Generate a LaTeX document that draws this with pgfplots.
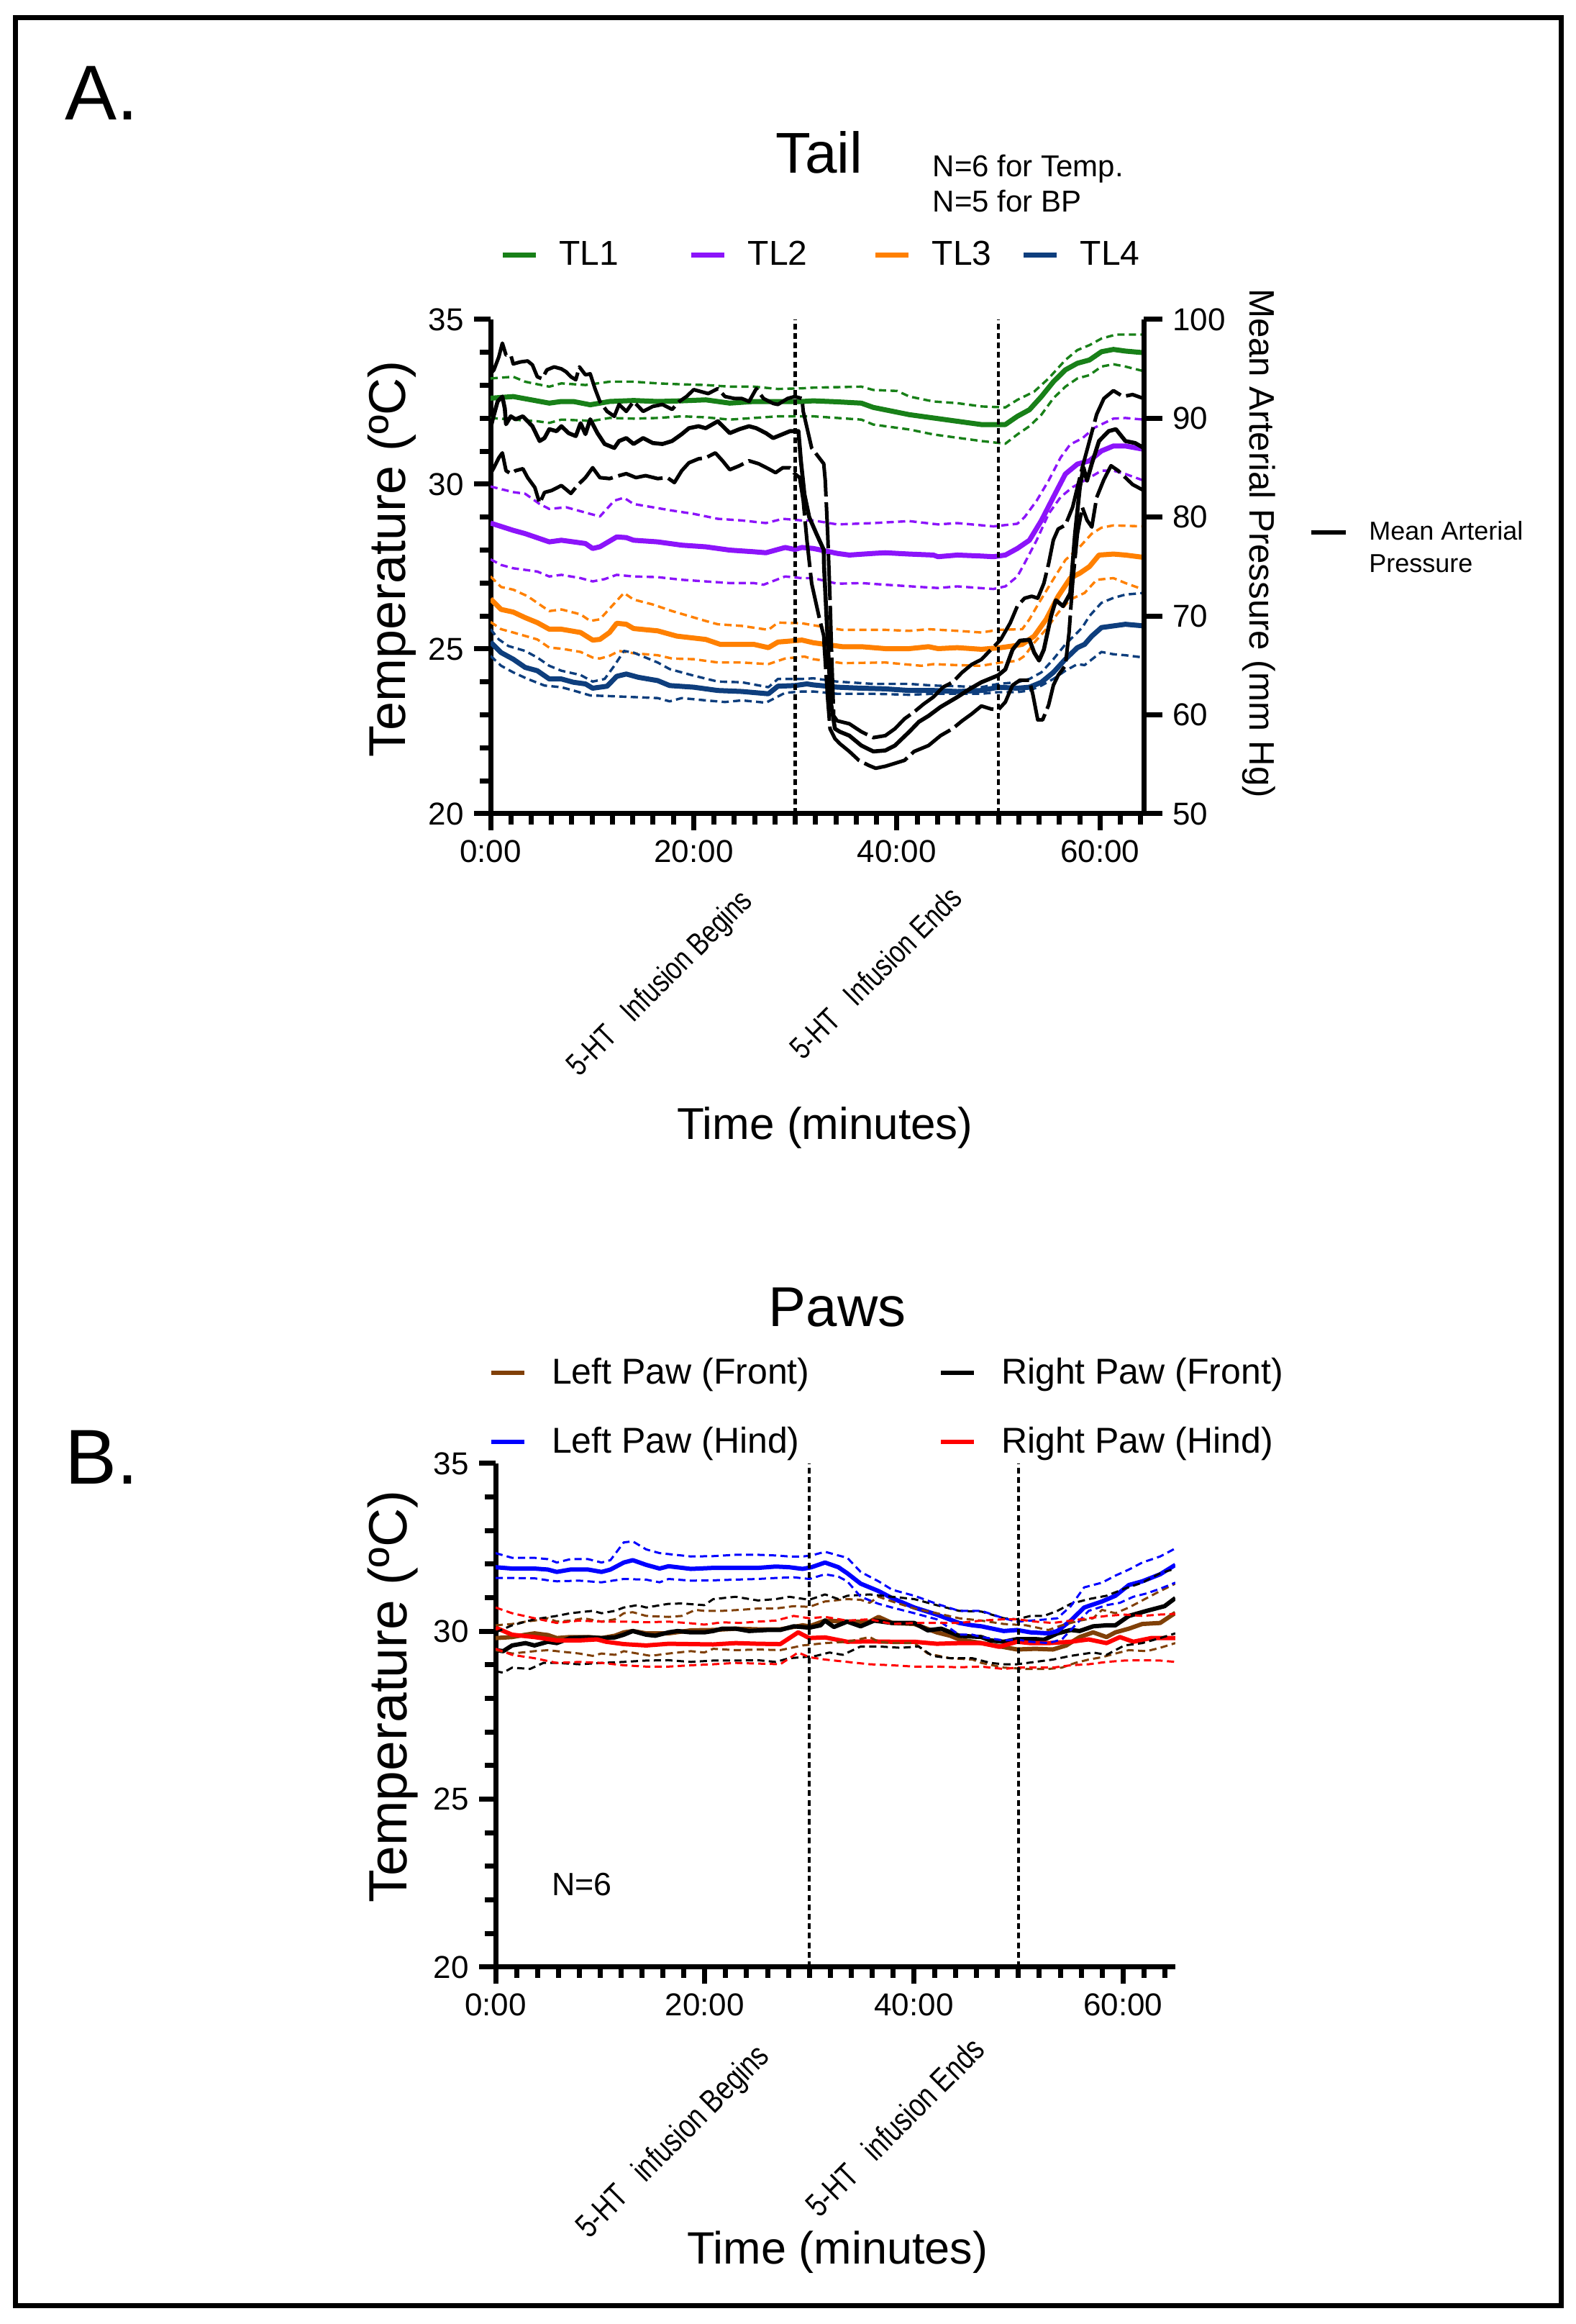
\documentclass[border=0pt]{standalone}
\usepackage{fontspec}
\setmainfont{Liberation Sans}
\usepackage{graphicx}
\usepackage{pgfplots}
\pgfplotsset{compat=1.18}

\definecolor{tlgreen}{RGB}{24,128,24}
\definecolor{tlpurple}{RGB}{140,20,250}
\definecolor{tlorange}{RGB}{255,128,0}
\definecolor{tlnavy}{RGB}{14,62,125}
\definecolor{pawbrown}{RGB}{128,64,8}

\tikzset{
  tmean/.style={line width=1.75pt},
  tband/.style={line width=0.85pt, dash pattern=on 2.5pt off 1.5pt},
  pmean/.style={line width=1.5pt},
  pband/.style={line width=0.75pt, dash pattern=on 2.5pt off 1.5pt},
  mapmean/.style={black, line width=1.4pt},
  mapband/.style={black, line width=1.25pt, dash pattern=on 16pt off 2pt},
  marker/.style={black, line width=1.1pt, dash pattern=on 2pt off 1.3pt},
}

\pgfplotsset{
  panel/.style={
    scale only axis, enlargelimits=false,
    axis x line=bottom, axis y line=left,
    axis line style={-, line width=1.75pt, black},
    tick align=outside, tick style={black, line width=1.75pt},
    major tick length=5.75pt, minor tick length=3.75pt,
    xtick={0,20,40,60}, xticklabels={0:00,20:00,40:00,60:00},
    ymin=20, ymax=35, ytick={20,25,30,35}, minor ytick={20,...,35},
    ticklabel style={font=\fontsize{11}{13}\selectfont},
    /pgf/number format/assume math mode=true,
    no markers, line join=round,
  }
}

\begin{document}
\begin{tikzpicture}
\useasboundingbox (0,0) rectangle (547.75pt,807.5pt);
\draw[line width=1.75pt] (5.25pt,6.25pt) rectangle (542.5pt,801.25pt);

% ---------- A. Tail: temperatures ----------
\begin{axis}[panel,
  width=227pt, height=171.75pt, at={(170.5pt,524.75pt)}, anchor=south west,
  xmin=0, xmax=64.3, minor xtick={0,2,...,64},
  ylabel={Temperature (ºC)}, xlabel={Time (minutes)},
  ylabel style={at={(axis description cs:-0.151,0.5155)}, anchor=center, font=\fontsize{18}{20}\selectfont},
  xlabel style={at={(axis description cs:0.512,-0.635)}, anchor=center, font=\fontsize{15.5}{18}\selectfont},
  legend style={draw=none, fill=none, at={(axis description cs:0.0006,1.1296)}, anchor=west,
    font=\fontsize{12}{14}\selectfont, nodes={inner sep=0pt}, column sep=0pt,
    /tikz/every odd column/.append style={column sep=7.25pt}},
  legend columns=4, legend cell align=left,
  legend image code/.code={\draw[#1] (0pt,0pt) -- (11.5pt,0pt);},
]
\addplot[tlgreen, tmean] coordinates {(0,32.61)(2.23,32.66)(5.78,32.46)(6.97,32.51)(8.15,32.51)(9.81,32.41)(11.71,32.51)(14.08,32.54)(16.45,32.51)(18.82,32.53)(21.18,32.56)(23.55,32.46)(25.92,32.51)(28.29,32.51)(30.66,32.51)(31.77,32.53)(34.13,32.50)(36.50,32.46)(37.68,32.33)(41.23,32.11)(43.59,32.01)(45.95,31.91)(48.32,31.81)(50.68,31.81)(51.86,32.06)(53.05,32.26)(54.23,32.66)(55.41,33.11)(56.59,33.47)(57.77,33.67)(58.96,33.77)(60.14,34.02)(61.32,34.09)(62.50,34.04)(64.3,33.99)};
\addlegendentry{\makebox[45.15pt][l]{TL1}}
\addplot[tlpurple, tmean] coordinates {(0,28.82)(2.23,28.60)(3.41,28.50)(5.78,28.25)(6.97,28.30)(9.34,28.20)(10.05,28.05)(10.76,28.10)(12.42,28.40)(13.36,28.38)(14.08,28.30)(16.45,28.25)(18.82,28.15)(21.18,28.10)(23.55,28.00)(25.92,27.95)(27.11,27.92)(29.0,28.08)(29.95,28.02)(30.66,28.08)(31.77,28.05)(34.13,27.90)(35.32,27.85)(37.68,27.90)(38.86,27.92)(41.23,27.88)(43.59,27.85)(44.06,27.80)(45.95,27.85)(48.32,27.82)(49.50,27.80)(50.68,27.85)(51.86,28.05)(53.05,28.30)(54.23,28.90)(55.41,29.61)(56.59,30.31)(57.77,30.61)(58.96,30.71)(60.14,31.01)(61.32,31.16)(62.50,31.16)(64.3,31.06)};
\addlegendentry{\makebox[43.5pt][l]{TL2}}
\addplot[tlorange, tmean] coordinates {(0,26.52)(1.04,26.20)(2.23,26.12)(3.41,25.95)(4.60,25.80)(5.78,25.60)(6.97,25.60)(8.86,25.50)(10.05,25.27)(10.76,25.29)(11.71,25.50)(12.42,25.78)(13.36,25.75)(14.08,25.62)(16.45,25.55)(18.34,25.39)(21.18,25.29)(22.61,25.14)(25.92,25.14)(27.35,25.04)(28.29,25.21)(30.66,25.27)(31.77,25.19)(34.61,25.07)(36.50,25.07)(38.86,25.01)(41.23,25.01)(43.12,25.07)(44.06,25.01)(45.95,25.04)(48.32,24.99)(50.21,25.04)(51.39,25.09)(52.34,25.14)(53.52,25.39)(54.70,25.90)(55.88,26.60)(57.07,27.15)(58.01,27.30)(58.96,27.50)(59.90,27.85)(61.32,27.88)(62.50,27.85)(64.3,27.78)};
\addlegendentry{\makebox[31pt][l]{TL3}}
\addplot[tlnavy, tmean] coordinates {(0,25.21)(1.04,24.89)(2.23,24.69)(3.41,24.44)(4.60,24.34)(5.78,24.09)(6.97,24.09)(8.15,23.99)(9.34,23.94)(10.05,23.81)(10.76,23.84)(11.47,23.87)(12.42,24.17)(13.36,24.24)(14.55,24.14)(16.45,24.04)(17.63,23.89)(20.0,23.84)(22.37,23.74)(24.74,23.71)(27.35,23.64)(28.29,23.87)(29.95,23.89)(31.14,23.94)(31.77,23.91)(34.13,23.84)(36.50,23.81)(38.86,23.79)(41.23,23.74)(43.59,23.74)(45.95,23.71)(48.32,23.74)(49.97,23.84)(51.86,23.81)(53.05,23.84)(54.23,23.99)(55.41,24.29)(56.59,24.69)(57.77,25.04)(58.48,25.14)(59.19,25.39)(60.14,25.65)(61.32,25.70)(62.50,25.75)(64.3,25.70)};
\addlegendentry{TL4}
% SEM bands
\addplot[tlgreen, tband, forget plot] coordinates {(0,33.21)(2.23,33.26)(3.41,33.11)(5.78,32.96)(6.97,33.06)(9.34,33.01)(11.71,33.11)(14.08,33.11)(16.45,33.06)(18.82,33.03)(21.18,33.01)(23.55,32.96)(25.92,32.96)(28.29,32.89)(30.66,32.91)(31.77,32.93)(36.50,32.96)(37.68,32.86)(40.04,32.83)(41.23,32.66)(43.59,32.51)(45.95,32.46)(48.32,32.36)(50.68,32.33)(51.86,32.56)(53.52,32.81)(54.94,33.21)(56.59,33.77)(57.77,34.07)(58.96,34.22)(60.14,34.42)(61.56,34.54)(64.3,34.54)};
\addplot[tlgreen, tband, forget plot] coordinates {(0,32.01)(2.23,31.96)(4.60,31.91)(5.78,31.86)(6.97,31.96)(9.34,31.93)(9.81,31.91)(11.71,32.01)(14.08,31.99)(16.45,32.01)(18.82,32.06)(21.18,32.03)(23.55,31.96)(25.92,32.01)(28.29,32.06)(30.66,32.06)(31.77,32.06)(36.50,31.96)(37.68,31.81)(41.23,31.66)(43.59,31.51)(45.95,31.41)(48.32,31.31)(50.68,31.23)(51.86,31.51)(53.05,31.76)(54.23,32.11)(55.41,32.61)(56.59,32.96)(57.77,33.21)(58.96,33.31)(60.14,33.57)(61.32,33.64)(62.50,33.57)(64.3,33.43)};
\addplot[tlpurple, tband, forget plot] coordinates {(0,29.93)(2.23,29.76)(3.41,29.71)(4.83,29.40)(5.78,29.25)(7.44,29.30)(9.81,29.10)(10.76,29.02)(12.18,29.50)(13.13,29.59)(14.08,29.40)(15.97,29.30)(17.87,29.20)(20.0,29.10)(22.37,28.95)(24.74,28.90)(27.11,28.82)(28.77,28.95)(30.66,28.90)(31.77,28.90)(34.13,28.78)(37.68,28.82)(41.23,28.88)(44.06,28.78)(45.95,28.82)(49.50,28.72)(51.86,28.80)(52.57,29.00)(53.76,29.50)(54.94,30.11)(56.12,30.81)(57.07,31.21)(58.25,31.39)(59.43,31.71)(61.32,31.99)(62.50,32.01)(64.3,31.96)};
\addplot[tlpurple, tband, forget plot] coordinates {(0,27.72)(1.04,27.55)(2.23,27.45)(4.60,27.35)(5.78,27.20)(6.97,27.25)(8.86,27.15)(10.05,27.05)(11.23,27.12)(12.42,27.25)(14.08,27.20)(16.45,27.18)(18.82,27.10)(21.18,27.05)(23.55,27.00)(25.92,27.00)(26.87,26.95)(29.0,27.20)(30.66,27.15)(31.77,27.15)(34.13,26.98)(36.50,27.00)(38.86,26.95)(42.41,26.88)(44.06,26.85)(45.95,26.90)(49.50,26.82)(50.68,26.90)(51.86,27.20)(52.57,27.60)(53.76,28.30)(54.94,29.10)(56.12,29.61)(57.30,29.91)(58.48,30.11)(60.14,30.41)(61.32,30.41)(62.50,30.31)(64.3,30.11)};
\addplot[tlorange, tband, forget plot] coordinates {(0,27.20)(1.04,26.88)(2.23,26.80)(3.65,26.60)(4.83,26.35)(5.78,26.15)(6.97,26.20)(8.86,26.05)(9.81,25.85)(10.76,25.90)(11.94,26.30)(13.13,26.70)(14.08,26.50)(15.97,26.35)(17.87,26.15)(19.53,26.00)(21.18,25.85)(22.37,25.75)(24.74,25.70)(27.35,25.58)(28.29,25.80)(30.66,25.78)(31.77,25.72)(34.61,25.58)(38.86,25.58)(41.23,25.55)(43.12,25.60)(45.95,25.55)(48.32,25.50)(49.97,25.58)(52.34,25.60)(53.05,25.90)(53.99,26.40)(55.17,27.00)(56.59,27.70)(58.01,28.10)(59.19,28.50)(60.14,28.68)(61.32,28.75)(64.3,28.72)};
\addplot[tlorange, tband, forget plot] coordinates {(0,25.82)(1.04,25.60)(2.23,25.50)(4.60,25.29)(5.78,25.04)(6.97,25.01)(8.86,24.91)(10.05,24.74)(10.76,24.71)(11.71,24.79)(12.65,24.94)(14.08,24.87)(16.45,24.81)(17.87,24.71)(20.0,24.69)(22.37,24.59)(24.74,24.59)(27.35,24.54)(29.0,24.71)(30.90,24.77)(31.77,24.69)(34.61,24.57)(38.86,24.59)(42.41,24.49)(43.59,24.54)(45.95,24.51)(48.32,24.49)(50.21,24.59)(51.86,24.64)(52.57,24.79)(53.52,25.19)(54.70,25.60)(55.88,26.10)(57.07,26.50)(58.48,26.70)(59.67,27.10)(61.32,27.15)(62.50,27.00)(64.3,26.80)};
\addplot[tlnavy, tband, forget plot] coordinates {(0,25.60)(0.81,25.29)(1.75,25.09)(3.41,24.94)(4.60,24.74)(5.78,24.49)(6.97,24.34)(8.86,24.21)(10.05,24.01)(11.23,24.09)(12.18,24.49)(13.13,24.94)(14.08,24.89)(15.26,24.74)(16.45,24.59)(17.63,24.39)(20.0,24.19)(22.37,24.01)(24.74,23.99)(27.35,23.84)(28.29,24.09)(30.66,24.09)(31.77,24.11)(34.13,24.01)(37.68,23.94)(41.23,23.94)(43.59,23.89)(45.95,23.87)(48.32,23.84)(49.97,23.94)(51.86,23.99)(53.05,24.09)(54.23,24.29)(55.41,24.69)(56.59,25.14)(57.77,25.50)(58.25,25.65)(58.96,26.00)(60.14,26.40)(61.32,26.55)(62.50,26.65)(64.3,26.70)};
\addplot[tlnavy, tband, forget plot] coordinates {(0,24.79)(1.04,24.49)(2.23,24.29)(3.65,24.09)(5.31,23.89)(6.97,23.84)(8.15,23.74)(9.81,23.59)(11.71,23.57)(14.08,23.54)(16.45,23.51)(17.63,23.41)(18.82,23.51)(21.18,23.44)(23.08,23.39)(24.74,23.44)(27.11,23.37)(29.0,23.67)(30.66,23.71)(31.77,23.71)(34.13,23.64)(37.68,23.64)(41.23,23.61)(43.59,23.64)(48.32,23.64)(49.97,23.69)(51.86,23.69)(53.05,23.74)(54.23,23.89)(55.41,24.09)(56.59,24.34)(57.77,24.54)(58.48,24.51)(59.43,24.74)(60.14,24.91)(61.32,24.84)(62.50,24.81)(64.3,24.74)};
% infusion markers
\addplot[marker, forget plot] coordinates {(30,20)(30,35)};
\addplot[marker, forget plot] coordinates {(50,20)(50,35)};
\end{axis}

% ---------- A. Tail: mean arterial pressure ----------
\begin{axis}[
  scale only axis, enlargelimits=false,
  width=227pt, height=171.75pt, at={(170.5pt,524.75pt)}, anchor=south west,
  xmin=0, xmax=64.3, hide x axis,
  axis y line=right, axis line style={-, line width=1.75pt, black},
  tick align=outside, tick style={black, line width=1.75pt}, major tick length=6.5pt,
  ymin=50, ymax=100, ytick={50,60,...,100},
  ticklabel style={font=\fontsize{11}{13}\selectfont},
  /pgf/number format/assume math mode=true,
  ylabel={Mean Arterial Pressure (mm Hg)},
  every axis y label/.style={at={(axis description cs:1.176,0.547)}, anchor=center, rotate=-90, font=\fontsize{12.3}{14}\selectfont},
  no markers, line join=round,
  legend style={draw=none, fill=none, at={(axis description cs:1.239,0.5364)}, anchor=west,
    font=\fontsize{9}{11.25}\selectfont, nodes={inner sep=0pt, align=left}, column sep=0pt,
    /tikz/every odd column/.append style={column sep=7.5pt}},
  legend cell align=left,
  legend image code/.code={\draw[#1] (0pt,5.6pt) -- (12pt,5.6pt);},
]
\addplot[mapmean] coordinates {(0,89.0)(0.21,89.9)(0.69,91.7)(1.16,92.2)(1.40,91.0)(1.52,89.4)(1.99,90.2)(2.46,89.9)(3.18,90.2)(4.12,89.2)(4.83,87.7)(5.31,88.0)(5.78,88.9)(6.49,88.7)(6.97,89.2)(7.68,88.5)(8.39,88.2)(8.86,89.5)(9.34,88.4)(9.81,89.9)(10.52,88.5)(11.23,87.4)(12.18,87.0)(12.65,87.7)(13.36,88.0)(14.08,87.4)(15.02,88.0)(15.97,87.5)(16.92,87.4)(17.87,87.7)(18.82,88.4)(19.53,89.0)(20.47,89.2)(21.18,89.0)(22.37,89.7)(23.55,88.5)(24.5,88.9)(25.45,89.2)(26.16,89.0)(27.11,88.5)(27.82,88.0)(28.77,88.4)(29.48,88.7)(30.31,88.7)(30.55,85.7)(30.90,82.3)(31.37,80.0)(32.09,78.3)(32.80,76.7)(32.83,75.0)(33.07,70.0)(33.31,65.0)(33.54,61.0)(33.9,58.6)(34.37,58.3)(35.32,57.9)(36.5,56.9)(37.68,56.3)(38.86,56.4)(39.81,56.9)(41.23,58.3)(42.17,59.3)(43.12,59.9)(44.3,60.8)(45.95,61.8)(47.14,62.6)(48.32,63.3)(49.5,63.8)(49.97,64.0)(50.68,64.6)(51.39,66.6)(52.1,67.5)(53.05,67.6)(53.52,66.3)(54.0,65.5)(54.47,66.6)(55.18,70.0)(55.65,71.6)(56.36,71.0)(57.07,72.3)(57.54,78.3)(58.01,83.0)(58.37,85.0)(58.72,83.7)(59.19,85.4)(59.9,87.7)(60.85,88.7)(61.56,88.9)(62.5,87.7)(63.45,87.5)(64.3,87.0)};
\addlegendentry{Mean Arterial\\Pressure}
\addplot[mapband, forget plot] coordinates {(0,94.5)(0.33,94.9)(0.81,96.2)(1.16,97.6)(1.52,96.4)(1.99,96.4)(2.23,95.5)(2.94,95.7)(3.65,95.8)(4.12,95.4)(4.60,94.2)(5.07,94.0)(5.55,94.9)(6.26,95.2)(6.97,95.0)(7.44,94.7)(7.91,94.2)(8.39,93.9)(8.74,95.2)(9.34,94.4)(9.81,94.5)(10.28,93.0)(10.76,91.7)(11.47,90.7)(12.18,90.2)(12.65,91.4)(13.36,90.7)(14.08,91.7)(15.02,90.7)(15.97,91.2)(16.92,91.4)(17.87,90.9)(18.58,91.7)(19.29,92.2)(20.0,92.9)(20.71,92.7)(21.42,92.5)(22.37,93.0)(23.08,92.2)(24.03,92.0)(24.74,92.0)(25.45,91.7)(26.16,93.0)(26.87,92.0)(27.82,91.5)(28.29,91.4)(29.24,92.0)(29.95,92.2)(30.66,92.0)(30.78,90.7)(31.61,87.0)(32.80,85.4)(32.95,83.7)(33.19,78.3)(33.42,71.6)(33.61,65.0)(33.78,59.9)(34.13,59.4)(35.32,59.1)(36.5,58.3)(37.68,57.7)(38.86,57.9)(39.81,58.6)(40.75,59.6)(41.7,60.3)(42.64,61.1)(43.59,61.8)(44.54,62.8)(45.48,63.3)(46.43,64.3)(47.37,65.1)(48.32,65.6)(49.26,66.6)(50.21,67.6)(51.16,69.3)(51.86,71.0)(52.57,71.8)(53.28,72.0)(53.87,71.8)(54.47,73.3)(54.94,75.3)(55.41,77.7)(55.88,78.8)(56.59,79.2)(57.3,81.0)(57.77,83.0)(58.25,85.0)(58.96,87.7)(59.67,90.4)(60.38,92.0)(61.32,92.8)(62.27,92.2)(63.21,92.4)(64.3,92.0)};
\addplot[mapband, forget plot] coordinates {(0,84.4)(0.33,85.0)(0.81,86.0)(1.16,86.5)(1.52,84.7)(1.99,84.4)(2.46,84.7)(3.18,84.9)(3.65,84.0)(4.36,83.0)(4.83,81.4)(5.31,82.5)(6.02,82.7)(6.97,83.2)(7.91,82.4)(8.63,83.3)(9.34,84.0)(10.05,85.0)(10.76,84.0)(11.71,83.9)(12.65,84.2)(13.36,84.4)(14.31,84.0)(15.26,84.2)(16.45,83.9)(17.39,84.0)(18.1,83.5)(18.82,84.7)(19.53,85.5)(20.47,85.9)(21.18,86.0)(22.13,86.5)(22.84,85.7)(23.55,84.8)(24.5,85.2)(25.45,85.7)(26.4,85.4)(27.35,84.9)(28.06,84.5)(28.77,85.0)(29.48,85.0)(29.95,84.4)(30.43,84.0)(30.78,81.7)(31.14,77.7)(31.61,73.3)(32.32,70.0)(32.80,68.0)(32.83,67.3)(33.19,61.6)(33.42,58.6)(33.9,57.6)(34.37,57.1)(35.32,56.3)(36.26,55.4)(37.21,54.9)(37.91,54.6)(38.86,54.8)(39.81,55.1)(40.75,55.4)(41.7,56.3)(43.12,56.9)(44.3,57.9)(45.48,58.6)(46.43,59.4)(47.37,60.1)(48.32,60.9)(49.26,60.6)(49.97,60.5)(50.68,61.3)(51.39,63.0)(52.1,63.5)(53.05,63.5)(53.4,62.0)(53.87,59.5)(54.35,59.5)(54.94,61.0)(55.41,63.0)(55.88,64.0)(56.59,65.0)(56.95,68.3)(57.3,73.3)(57.77,78.3)(58.25,81.0)(58.72,79.7)(59.19,79.0)(59.67,82.0)(60.38,83.8)(61.08,85.2)(61.79,84.7)(62.5,84.0)(63.21,83.3)(64.3,82.7)};
\end{axis}

% ---------- B. Paws ----------
\begin{axis}[panel,
  width=236.25pt, height=175pt, at={(172.25pt,124pt)}, anchor=south west,
  xmin=0, xmax=65, minor xtick={0,2,...,64},
  ylabel={Temperature (ºC)}, xlabel={Time (minutes)},
  ylabel style={at={(axis description cs:-0.1513,0.537)}, anchor=center, font=\fontsize{18.75}{21}\selectfont},
  xlabel style={at={(axis description cs:0.503,-0.5654)}, anchor=center, font=\fontsize{15.75}{18}\selectfont},
  legend style={draw=none, fill=none, at={(axis description cs:-0.023,1.111)}, anchor=west,
    font=\fontsize{12.5}{15}\selectfont, nodes={inner sep=0pt}, row sep=13.5pt, column sep=0pt,
    /tikz/every odd column/.append style={column sep=8.75pt}},
  legend columns=2, legend cell align=left,
  legend image code/.code={\draw[#1] (0pt,0pt) -- (11.5pt,0pt);},
]
\addplot[pawbrown, pmean] coordinates {(0,29.80)(1.58,29.83)(2.86,29.90)(3.72,29.94)(5.0,29.89)(5.85,29.80)(7.14,29.83)(8.85,29.83)(10.13,29.80)(11.41,29.87)(12.26,29.97)(13.12,30.01)(14.40,29.94)(16.54,29.94)(18.68,30.03)(20.81,30.04)(22.95,30.08)(25.09,30.06)(27.22,30.06)(29.36,30.18)(30,30.15)(31.50,30.32)(33.63,30.29)(35.77,30.29)(36.62,30.43)(37.91,30.25)(40.04,30.22)(42.18,29.97)(43.46,29.87)(44.32,29.76)(46.45,29.65)(47.74,29.58)(49.87,29.46)(51.58,29.48)(53.29,29.46)(54.57,29.58)(55.85,29.83)(57.14,29.97)(58.42,29.83)(59.27,29.97)(60.56,30.08)(61.84,30.22)(63.55,30.25)(65,30.55)};
\addlegendentry{\makebox[134.5pt][l]{Left Paw (Front)}}
\addplot[black, pmean] coordinates {(0,29.44)(0.73,29.41)(1.58,29.58)(2.86,29.65)(3.72,29.58)(5.0,29.69)(5.85,29.65)(7.14,29.80)(8.85,29.82)(10.13,29.80)(11.41,29.82)(12.26,29.90)(13.12,30.01)(14.40,29.90)(15.26,29.87)(16.54,29.97)(17.39,30.01)(18.68,29.97)(19.96,29.97)(20.81,30.01)(21.67,30.08)(22.95,30.08)(24.23,30.01)(25.94,30.04)(27.22,30.04)(28.5,30.15)(30,30.11)(31.07,30.18)(31.50,30.32)(32.35,30.13)(33.63,30.29)(34.91,30.15)(36.20,30.32)(37.91,30.25)(40.04,30.25)(41.32,30.03)(42.61,30.08)(44.32,29.87)(46.45,29.83)(47.31,29.73)(48.59,29.69)(49.87,29.77)(51.58,29.77)(52.44,29.75)(53.72,29.94)(55.0,30.04)(55.85,30.01)(57.14,30.15)(58.42,30.18)(59.27,30.18)(60.56,30.46)(62.26,30.61)(63.97,30.75)(65,30.99)};
\addlegendentry{Right Paw (Front)}
\addplot[blue, pmean] coordinates {(0,31.91)(1.58,31.87)(3.72,31.87)(5.0,31.84)(5.85,31.77)(7.14,31.84)(8.85,31.84)(10.13,31.77)(10.98,31.84)(12.26,32.05)(13.12,32.12)(14.40,31.98)(15.68,31.87)(16.54,31.94)(18.68,31.86)(20.81,31.89)(22.95,31.89)(25.09,31.89)(26.79,31.93)(28.08,31.91)(29.36,31.86)(30.21,31.91)(31.50,32.05)(32.78,31.91)(33.63,31.73)(34.91,31.42)(36.62,31.20)(37.91,30.99)(40.04,30.71)(42.18,30.50)(44.32,30.25)(45.60,30.18)(46.45,30.15)(48.59,30.01)(49.87,30.04)(51.15,29.97)(52.86,29.94)(53.72,30.01)(55.0,30.32)(56.28,30.71)(57.99,30.89)(59.27,31.06)(60.56,31.38)(61.84,31.49)(63.55,31.70)(65,31.98)};
\addlegendentry{\makebox[134.5pt][l]{Left Paw (Hind)}}
\addplot[red, pmean] coordinates {(0,30.11)(1.58,29.90)(3.72,29.83)(5.85,29.73)(8.0,29.73)(9.70,29.76)(10.56,29.69)(12.26,29.62)(14.40,29.58)(16.54,29.63)(18.68,29.62)(20.81,29.61)(22.95,29.65)(25.09,29.63)(27.22,29.62)(28.93,29.97)(30,29.80)(31.50,29.82)(33.63,29.69)(35.77,29.70)(37.91,29.69)(40.04,29.69)(42.18,29.63)(44.32,29.65)(46.45,29.65)(48.16,29.54)(49.87,29.69)(51.15,29.65)(52.86,29.65)(55.0,29.69)(56.71,29.76)(58.42,29.65)(59.70,29.83)(60.98,29.69)(62.69,29.80)(65,29.80)};
\addlegendentry{Right Paw (Hind)}
% SEM bands
\addplot[pawbrown, pband, forget plot] coordinates {(0,30.18)(1.58,30.22)(2.86,30.29)(3.72,30.32)(5.0,30.39)(5.85,30.29)(7.14,30.32)(8.42,30.39)(10.13,30.29)(11.41,30.36)(12.26,30.54)(13.12,30.57)(14.40,30.46)(16.54,30.43)(17.82,30.46)(19.10,30.64)(19.96,30.61)(21.67,30.61)(23.38,30.64)(25.09,30.68)(26.79,30.68)(28.5,30.75)(30,30.73)(31.50,30.89)(33.63,30.96)(34.91,30.94)(35.77,30.85)(36.62,31.03)(37.91,30.89)(40.04,30.68)(42.18,30.54)(44.32,30.39)(46.45,30.32)(48.59,30.22)(50.73,30.18)(52.86,30.04)(54.15,30.18)(55.85,30.32)(57.14,30.39)(57.99,30.64)(59.27,30.54)(60.56,30.71)(62.26,30.99)(63.55,31.20)(65,31.42)};
\addplot[pawbrown, pband, forget plot] coordinates {(0,29.44)(1.58,29.34)(3.72,29.41)(5.0,29.44)(5.85,29.41)(8.0,29.34)(9.27,29.27)(10.13,29.34)(11.41,29.30)(12.26,29.41)(13.55,29.34)(14.83,29.27)(16.54,29.34)(18.68,29.41)(19.96,29.37)(20.81,29.48)(22.95,29.44)(25.09,29.46)(27.22,29.44)(29.36,29.58)(31.50,29.65)(33.63,29.69)(35.77,29.83)(36.62,29.69)(37.91,29.65)(40.04,29.65)(41.32,29.34)(43.46,29.20)(45.60,29.16)(46.45,29.06)(48.59,28.92)(50.73,28.88)(52.86,28.88)(54.15,28.92)(55.43,29.06)(56.71,29.16)(57.99,29.23)(59.27,29.34)(60.56,29.44)(62.26,29.41)(63.55,29.51)(65,29.65)};
\addplot[black, pband, forget plot] coordinates {(0,29.97)(1.58,30.18)(3.72,30.36)(5.85,30.46)(7.14,30.54)(9.27,30.61)(10.13,30.54)(11.41,30.61)(12.26,30.71)(13.55,30.78)(14.40,30.71)(16.54,30.82)(17.82,30.83)(19.96,30.78)(20.81,30.96)(22.95,31.03)(25.09,30.92)(26.79,30.96)(28.08,31.03)(30,30.94)(31.50,31.10)(32.78,30.96)(33.63,31.06)(35.77,31.10)(37.91,31.03)(40.04,30.96)(42.18,30.78)(44.32,30.61)(46.45,30.59)(48.59,30.39)(49.87,30.36)(51.15,30.46)(52.44,30.46)(53.72,30.61)(55.0,30.82)(56.71,30.96)(58.42,31.06)(60.13,31.27)(61.84,31.45)(63.55,31.73)(65,31.87)};
\addplot[black, pband, forget plot] coordinates {(0,28.81)(0.73,28.77)(1.58,28.92)(3.29,28.88)(4.57,29.06)(5.85,29.06)(8.0,29.02)(10.13,29.06)(12.26,29.09)(14.40,29.13)(16.54,29.14)(18.68,29.09)(20.81,29.13)(22.95,29.13)(25.09,29.14)(26.79,29.09)(28.08,29.20)(29.36,29.23)(30.64,29.27)(31.92,29.37)(33.21,29.30)(34.91,29.55)(36.62,29.55)(38.76,29.51)(40.47,29.55)(41.75,29.27)(43.46,29.20)(45.60,29.20)(47.31,29.06)(48.59,29.02)(49.87,29.02)(51.58,29.09)(53.29,29.16)(55.0,29.27)(57.14,29.37)(58.42,29.30)(60.13,29.58)(61.84,29.65)(63.55,29.80)(65,29.94)};
\addplot[blue, pband, forget plot] coordinates {(0,32.33)(1.58,32.19)(3.72,32.19)(5.0,32.15)(5.85,32.05)(7.14,32.15)(8.85,32.15)(10.13,32.05)(10.98,32.12)(12.26,32.65)(13.12,32.68)(14.40,32.44)(15.68,32.33)(18.68,32.23)(20.81,32.24)(22.95,32.28)(25.09,32.28)(26.79,32.26)(28.08,32.23)(29.36,32.23)(30.21,32.26)(31.50,32.37)(32.78,32.26)(33.63,32.19)(34.91,31.77)(36.62,31.49)(37.91,31.24)(40.04,31.06)(42.18,30.82)(44.32,30.61)(46.45,30.61)(48.59,30.39)(49.87,30.29)(51.15,30.32)(52.86,30.36)(53.72,30.39)(55.0,30.75)(56.28,31.31)(57.99,31.45)(59.27,31.66)(60.56,31.84)(61.84,32.05)(63.55,32.23)(65,32.47)};
\addplot[blue, pband, forget plot] coordinates {(0,31.59)(1.58,31.59)(3.72,31.58)(5.0,31.52)(5.85,31.49)(8.0,31.51)(10.13,31.46)(12.26,31.56)(14.40,31.54)(15.68,31.46)(16.54,31.56)(18.68,31.51)(20.81,31.52)(22.95,31.54)(25.09,31.56)(26.79,31.59)(28.5,31.61)(30,31.56)(31.50,31.70)(32.78,31.63)(33.63,31.49)(34.91,31.03)(36.62,30.82)(37.91,30.71)(40.04,30.54)(42.18,30.36)(44.32,29.90)(45.60,29.90)(46.45,29.83)(48.59,29.73)(49.87,29.76)(51.15,29.69)(52.86,29.65)(54.15,29.76)(55.43,30.18)(56.71,30.61)(58.42,30.78)(59.70,30.85)(60.98,31.03)(62.26,31.13)(63.55,31.27)(65,31.45)};
\addplot[red, pband, forget plot] coordinates {(0,30.71)(1.58,30.54)(3.72,30.39)(5.85,30.25)(8.0,30.32)(10.13,30.29)(12.26,30.29)(14.40,30.27)(16.54,30.29)(18.68,30.24)(19.96,30.20)(21.67,30.27)(23.38,30.25)(25.09,30.29)(26.79,30.32)(28.5,30.46)(30,30.39)(31.50,30.43)(33.63,30.32)(35.77,30.36)(37.91,30.22)(40.04,30.25)(42.18,30.25)(44.32,30.25)(46.45,30.32)(48.59,30.36)(49.87,30.36)(51.58,30.29)(53.29,30.25)(55.0,30.32)(56.71,30.39)(58.42,30.46)(60.13,30.50)(61.84,30.46)(63.55,30.50)(65,30.52)};
\addplot[red, pband, forget plot] coordinates {(0,29.48)(1.58,29.30)(3.72,29.20)(5.85,29.06)(8.0,29.09)(10.13,29.06)(12.26,28.99)(14.40,28.95)(16.54,28.95)(18.68,28.99)(20.81,29.02)(22.95,29.06)(25.09,29.04)(27.22,29.02)(28.93,29.37)(30,29.23)(31.50,29.16)(33.63,29.09)(35.77,29.02)(37.91,28.99)(40.04,28.95)(42.18,28.95)(44.32,28.93)(46.45,28.95)(48.59,28.88)(49.87,28.92)(51.58,28.92)(53.29,28.92)(55.0,28.99)(56.71,29.02)(58.42,29.09)(60.13,29.13)(61.84,29.14)(63.55,29.13)(65,29.09)};
% infusion markers
\addplot[marker, forget plot] coordinates {(30,20)(30,35)};
\addplot[marker, forget plot] coordinates {(50,20)(50,35)};
\node[anchor=west, font=\fontsize{11.2}{13}\selectfont] at (axis cs:4.4,22.47) {N=6};
\end{axis}

% ---------- titles, notes, annotations ----------
\node[font=\fontsize{20}{24}\selectfont] at (284.75pt,754.5pt) {Tail};
\node[anchor=base west, inner sep=0pt, font=\fontsize{10.5}{12}\selectfont] at (324pt,746.2pt) {N=6 for Temp.};
\node[anchor=base west, inner sep=0pt, font=\fontsize{10.5}{12}\selectfont] at (324pt,733.8pt) {N=5 for BP};
\node[font=\fontsize{19.5}{23}\selectfont] at (291pt,353.25pt) {Paws};
\node[anchor=base west, inner sep=0pt, font=\fontsize{27}{30}\selectfont] at (22.5pt,765.75pt) {A.};
\node[anchor=base west, inner sep=0pt, font=\fontsize{27}{30}\selectfont] at (22.5pt,291.75pt) {B.};
\node[rotate=45, font=\fontsize{11}{13}\selectfont] at (229.75pt,465.5pt) {\scalebox{0.79}[1]{5-HT\hspace{0.8em}Infusion Begins}};
\node[rotate=45, font=\fontsize{11}{13}\selectfont] at (304.25pt,469.5pt) {\scalebox{0.79}[1]{5-HT\hspace{0.8em}Infusion Ends}};
\node[rotate=45, font=\fontsize{11.5}{13}\selectfont] at (234.25pt,63pt) {\scalebox{0.79}[1]{5-HT\hspace{0.8em}infusion Begins}};
\node[rotate=45, font=\fontsize{11.5}{13}\selectfont] at (311pt,68.5pt) {\scalebox{0.79}[1]{5-HT\hspace{0.8em}infusion Ends}};
\end{tikzpicture}
\end{document}
